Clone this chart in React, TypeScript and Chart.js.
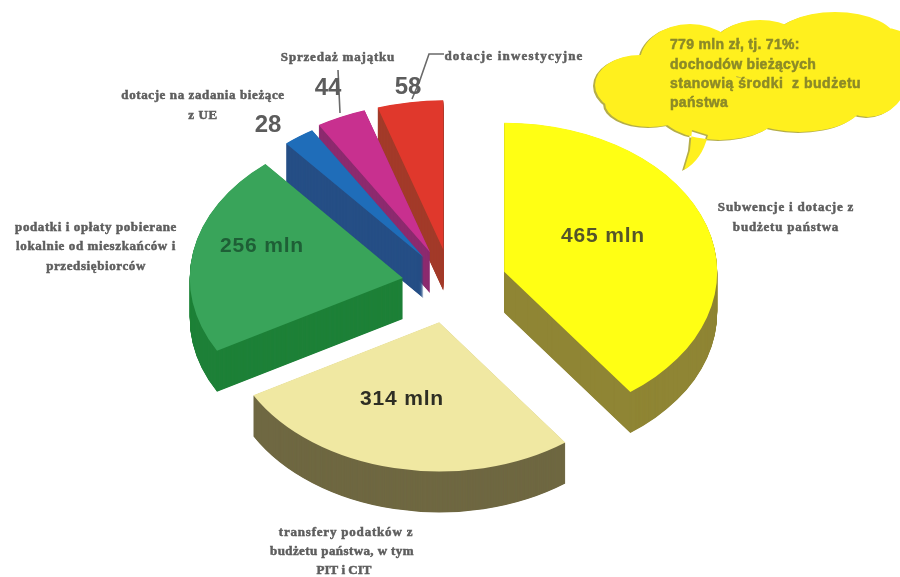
import React, { useEffect, useRef } from "react";
import { Chart, registerables } from "chart.js";

Chart.register(...registerables);

const categories = [
  "Subwencje i dotacje z budżetu państwa",
  "transfery podatków z budżetu państwa, w tym PIT i CIT",
  "podatki i opłaty pobierane lokalnie od mieszkańców i przedsiębiorców",
  "dotacje na zadania bieżące z UE",
  "Sprzedaż majątku",
  "dotacje inwestycyjne",
];
const values = [465, 314, 256, 28, 44, 58];
const topColors = ["#FFFF14", "#F0E8A2", "#39A45A", "#1F6DB9", "#C8308F", "#E0382C"];
const wallColors = ["#8F8534", "#6F6842", "#1E8038", "#254E85", "#8C2A6E", "#A33B2A"];

const TILT = 0.7;
const DEPTH = 41;
const RADIUS = 213;
const explode = [56, 56, 49, 47, 50, 50];

const serif = '"Liberation Serif", serif';
const sans = '"Liberation Sans", sans-serif';

type T = { s: string; x: number; y: number; f: string; c: string; a?: CanvasTextAlign; ls?: string; w?: number };
const LBL = `bold 13px ${serif}`;
const GREY = "#5e5e5e";
const texts: T[] = [
  { s: "Sprzedaż majątku", x: 338, y: 58, f: LBL, c: GREY, ls: "0.8px", w: 0.5 },
  { s: "dotacje inwestycyjne", x: 514, y: 57, f: LBL, c: GREY, ls: "1.2px", w: 0.5 },
  { s: "dotacje na zadania bieżące", x: 203, y: 96, f: LBL, c: GREY, ls: "0.6px", w: 0.5 },
  { s: "z UE", x: 203, y: 116, f: LBL, c: GREY, ls: "0.6px", w: 0.5 },
  { s: "podatki i opłaty pobierane", x: 96, y: 228, f: LBL, c: GREY, ls: "0.6px", w: 0.5 },
  { s: "lokalnie od mieszkańców i", x: 96, y: 247, f: LBL, c: GREY, ls: "0.6px", w: 0.5 },
  { s: "przedsiębiorców", x: 96, y: 267, f: LBL, c: GREY, ls: "0.6px", w: 0.5 },
  { s: "Subwencje i dotacje z", x: 786, y: 208, f: LBL, c: GREY, ls: "0.8px", w: 0.5 },
  { s: "budżetu państwa", x: 786, y: 228, f: LBL, c: GREY, ls: "0.8px", w: 0.5 },
  { s: "transfery podatków z", x: 346, y: 533, f: LBL, c: GREY, ls: "0.8px", w: 0.5 },
  { s: "budżetu państwa, w tym", x: 342, y: 552, f: LBL, c: GREY, ls: "0.4px", w: 0.5 },
  { s: "PIT i CIT", x: 344, y: 571, f: LBL, c: GREY, w: 0.5 },
  { s: "465 mln", x: 603, y: 236, f: `bold 21px ${sans}`, c: "#55552a", ls: "0.8px" },
  { s: "314 mln", x: 402, y: 399, f: `bold 21px ${sans}`, c: "#2e2e24", ls: "0.8px" },
  { s: "256 mln", x: 262, y: 246, f: `bold 21px ${sans}`, c: "#1e5f36", ls: "0.8px" },
  { s: "28", x: 268, y: 125, f: `bold 24px ${sans}`, c: "#5c5c5c" },
  { s: "44", x: 328, y: 88, f: `bold 24px ${sans}`, c: "#5c5c5c" },
  { s: "58", x: 408, y: 87, f: `bold 24px ${sans}`, c: "#5c5c5c" },
  { s: "779 mln zł, tj. 71%:", x: 670, y: 45, f: `bold 14px ${sans}`, c: "#8c8a28", a: "left", ls: "0.3px", w: 0.5 },
  { s: "dochodów bieżących", x: 670, y: 65, f: `bold 14px ${sans}`, c: "#8c8a28", a: "left", ls: "0.3px", w: 0.5 },
  { s: "stanowią środki  z budżetu", x: 670, y: 84, f: `bold 14px ${sans}`, c: "#8c8a28", a: "left", ls: "0.5px", w: 0.5 },
  { s: "państwa", x: 670, y: 103, f: `bold 14px ${sans}`, c: "#8c8a28", a: "left", ls: "0.3px", w: 0.5 },
];

const cloudLobes = [
  [640, 85, 45, 30], [690, 62, 50, 38], [760, 50, 48, 30], [835, 42, 62, 30],
  [868, 75, 40, 42], [885, 60, 35, 32], [800, 100, 65, 32], [720, 108, 62, 32], [650, 103, 45, 24],
];

function cloudPath(ctx: CanvasRenderingContext2D) {
  ctx.beginPath();
  for (const [x, y, a, b] of cloudLobes) {
    ctx.moveTo(x + a, y);
    ctx.ellipse(x, y, a, b, 0, 0, Math.PI * 2);
  }
  ctx.moveTo(692, 130);
  ctx.lineTo(690, 150);
  ctx.lineTo(684, 170);
  ctx.quadraticCurveTo(702, 160, 708, 135);
  ctx.closePath();
}

const tiltPlugin = {
  id: "tilt",
  afterDatasetsUpdate(chart: any) {
    chart.getDatasetMeta(0).data.forEach((arc: any, i: number) => {
      const mid = (arc.startAngle + arc.endAngle) / 2;
      arc.x += Math.cos(mid) * explode[i];
      arc.y += Math.sin(mid) * explode[i];
    });
  },
  beforeDatasetsDraw(chart: any) {
    const ctx = chart.ctx;
    const arcs = chart.getDatasetMeta(0).data;
    const cy = (chart.chartArea.top + chart.chartArea.bottom) / 2;
    ctx.save();
    ctx.translate(0, cy);
    ctx.scale(1, TILT);
    ctx.translate(0, -cy);
    for (let i = arcs.length - 1; i >= 0; i--) {
      const ghost = Object.create(arcs[i]);
      ghost.options = Object.assign(Object.create(arcs[i].options), {
        backgroundColor: wallColors[i],
        borderWidth: 0,
      });
      for (let d = DEPTH; d >= 0.5; d -= 0.5) {
        ctx.save();
        ctx.translate(0, d / TILT);
        ghost.draw(ctx);
        ctx.restore();
      }
    }
  },
  afterDatasetsDraw(chart: any) {
    chart.ctx.restore();
  },
  afterDraw(chart: any) {
    const ctx: CanvasRenderingContext2D = chart.ctx;
    ctx.save();
    ctx.save();
    ctx.translate(-2, 1);
    cloudPath(ctx);
    ctx.fillStyle = "#b5ae48";
    ctx.fill();
    ctx.restore();
    cloudPath(ctx);
    ctx.fillStyle = "#FFF01E";
    ctx.fill();
    ctx.strokeStyle = "#6a6a6a";
    ctx.lineWidth = 1.6;
    ctx.beginPath();
    ctx.moveTo(338, 70);
    ctx.lineTo(340, 113);
    ctx.moveTo(444, 54);
    ctx.lineTo(429, 54);
    ctx.lineTo(420, 80);
    ctx.lineTo(412, 99);
    ctx.stroke();
    ctx.textBaseline = "middle";
    for (const t of texts) {
      ctx.font = t.f;
      ctx.fillStyle = t.c;
      ctx.strokeStyle = t.c;
      ctx.textAlign = t.a ?? "center";
      (ctx as any).letterSpacing = t.ls ?? "0px";
      ctx.fillText(t.s, t.x, t.y);
      if (t.w) {
        ctx.lineWidth = t.w;
        ctx.strokeText(t.s, t.x, t.y);
      }
    }
    ctx.restore();
  },
};

export default function App() {
  const ref = useRef<HTMLCanvasElement>(null);
  useEffect(() => {
    const chart = new Chart(ref.current!, {
      type: "pie",
      data: {
        labels: categories,
        datasets: [
          {
            data: values,
            backgroundColor: topColors,
            borderWidth: 0,
            clip: false,
          } as any,
        ],
      },
      options: {
        responsive: false,
        animation: false,
        radius: RADIUS,
        layout: { padding: { left: 2, bottom: 9 } },
        events: [],
        plugins: { legend: { display: false }, tooltip: { enabled: false } },
      } as any,
      plugins: [tiltPlugin],
    });
    return () => chart.destroy();
  }, []);
  return (
    <canvas
      ref={ref}
      width={900}
      height={577}
      style={{
        position: "fixed",
        left: 0,
        top: 0,
        width: 900,
        height: 577,
        filter: "blur(0.6px)",
      }}
    />
  );
}
